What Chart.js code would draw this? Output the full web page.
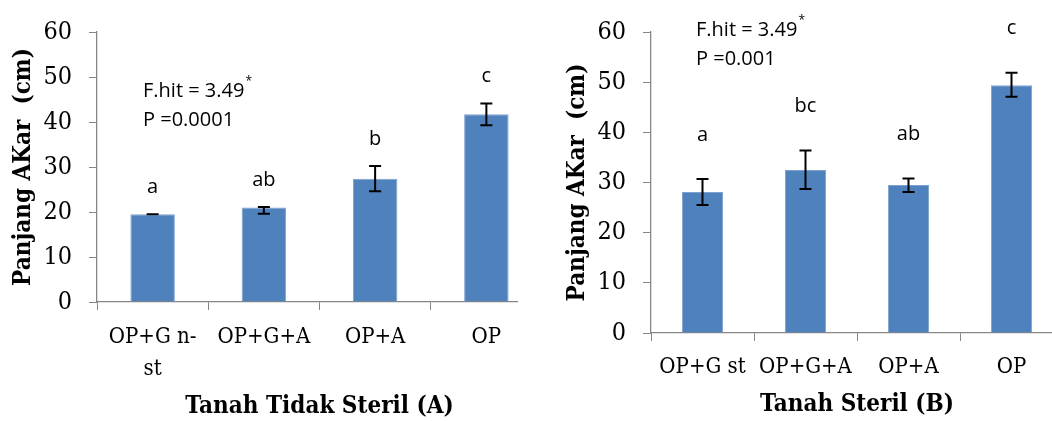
<!DOCTYPE html>
<html>
<head>
<meta charset="utf-8">
<script src="https://cdn.jsdelivr.net/npm/chart.js@4.4.0/dist/chart.umd.min.js"></script>
<style>
  html, body { margin: 0; padding: 0; background: #fff; }
  .wrap { position: absolute; top: 0; height: 421px; overflow: hidden; }
  #boxA { left: 0; width: 518px; }
  #boxB { left: 530px; width: 522px; }
  canvas { display: block; }
</style>
</head>
<body>
<div class="wrap" id="boxA"><canvas id="chartA" width="560" height="421"></canvas></div>
<div class="wrap" id="boxB"><canvas id="chartB" width="560" height="421"></canvas></div>
<script>
// data
const yTicks = [0, 10, 20, 30, 40, 50, 60];

const categoriesA = [["OP+G n-", "st"], "OP+G+A", "OP+A", "OP"];
const valuesA = [19.5, 21.0, 27.4, 41.7];
const errPlusA = [0, 0.1, 2.8, 2.4];
const errMinusA = [0, 1.4, 2.8, 2.4];
const lettersA = ["a", "ab", "b", "c"];
const statsA = ["F.hit = 3.49", "P =0.0001"];

const categoriesB = ["OP+G st", "OP+G+A", "OP+A", "OP"];
const valuesB = [28.1, 32.5, 29.5, 49.4];
const errPlusB = [2.6, 3.9, 1.3, 2.5];
const errMinusB = [2.6, 3.8, 1.4, 2.3];
const lettersB = ["a", "bc", "ab", "c"];
const statsB = ["F.hit = 3.49", "P =0.001"];

const axisGray = "#878787";
const barBlue = "#4F81BD";
const serif = "'DejaVu Serif Condensed', 'DejaVu Serif', serif";

// error bars, significance letters and the F/P note
const annotatePlugin = {
  id: "annotate",
  afterDatasetsDraw(chart, args, opts) {
    const ctx = chart.ctx;
    const meta = chart.getDatasetMeta(0);
    const y = chart.scales.y;
    ctx.save();
    ctx.strokeStyle = "#000";
    ctx.lineWidth = 2;
    meta.data.forEach((bar, i) => {
      const v = opts.values[i];
      const top = y.getPixelForValue(v + opts.errPlus[i]);
      const bot = y.getPixelForValue(v - opts.errMinus[i]);
      ctx.beginPath();
      ctx.moveTo(bar.x, top);
      ctx.lineTo(bar.x, bot);
      ctx.moveTo(bar.x - 6, top);
      ctx.lineTo(bar.x + 6, top);
      ctx.moveTo(bar.x - 6, bot);
      ctx.lineTo(bar.x + 6, bot);
      ctx.stroke();

      ctx.fillStyle = "#000";
      ctx.font = "20px 'Open Sans'";
      ctx.textAlign = "center";
      ctx.textBaseline = "middle";
      ctx.fillText(opts.letters[i], bar.x, top - opts.letterGap);
    });

    ctx.textAlign = "left";
    ctx.textBaseline = "middle";
    ctx.font = "20px 'Open Sans'";
    ctx.fillText(opts.stats[0], opts.statX, opts.statY);
    const w = ctx.measureText(opts.stats[0]).width;
    ctx.font = "12px 'Open Sans'";
    ctx.fillText("*", opts.statX + w + 1, opts.statY - 9);
    ctx.font = "20px 'Open Sans'";
    ctx.fillText(opts.stats[1], opts.statX, opts.statY + 29);
    ctx.restore();
  }
};

function makeChart(canvasId, cfg) {
  return new Chart(document.getElementById(canvasId), {
    type: "bar",
    data: {
      labels: cfg.labels,
      datasets: [{
        data: cfg.values,
        backgroundColor: barBlue,
        borderColor: "#7EA2CF",
        borderWidth: 1,
        barPercentage: 0.4,
        categoryPercentage: 1.0
      }]
    },
    options: {
      responsive: false,
      animation: false,
      layout: { padding: { top: cfg.top, right: cfg.right, bottom: 0, left: 0 } },
      plugins: {
        legend: { display: false },
        tooltip: { enabled: false },
        annotate: {
          values: cfg.values,
          errPlus: cfg.errPlus,
          errMinus: cfg.errMinus,
          letters: cfg.letters,
          letterGap: cfg.letterGap,
          stats: cfg.stats,
          statX: cfg.statX,
          statY: cfg.statY
        }
      },
      scales: {
        x: {
          offset: true,
          grid: { offset: true, drawOnChartArea: false, color: axisGray, tickLength: 8 },
          border: { color: axisGray, width: 1.3 },
          ticks: {
            color: "#000",
            maxRotation: 0,
            autoSkip: false,
            padding: cfg.xTickPad,
            font: { family: serif, size: 22, lineHeight: 1.45 }
          },
          title: {
            display: true,
            text: cfg.xTitle,
            color: "#000",
            padding: { top: 0, bottom: cfg.xTitlePad },
            font: { family: serif, size: 24, weight: "bold", lineHeight: 1.2 }
          },
          afterFit: (scale) => { scale.height = cfg.xHeight; }
        },
        y: {
          min: 0,
          max: 60,
          afterBuildTicks: (scale) => { scale.ticks = yTicks.map((v) => ({ value: v })); },
          grid: { drawOnChartArea: false, color: axisGray, tickLength: 8 },
          border: { color: axisGray, width: 1.3 },
          ticks: {
            color: "#000",
            padding: 17,
            font: { family: serif, size: 25 }
          },
          title: {
            display: true,
            text: "Panjang AKar  (cm)",
            color: "#000",
            padding: { top: cfg.yTitlePad, bottom: 0 },
            font: { family: serif, size: 24, weight: "bold", lineHeight: 1.2 }
          },
          afterFit: (scale) => { scale.width = cfg.yWidth; }
        }
      }
    },
    plugins: [annotatePlugin]
  });
}

makeChart("chartA", {
  labels: categoriesA, values: valuesA, errPlus: errPlusA, errMinus: errMinusA,
  letters: lettersA, stats: statsA, letterGap: 27, statX: 143, statY: 91,
  top: 25, right: 18, xHeight: 119, xTickPad: 11, xTitlePad: 0, yWidth: 97, yTitlePad: 9,
  xTitle: "Tanah Tidak Steril (A)"
});

makeChart("chartB", {
  labels: categoriesB, values: valuesB, errPlus: errPlusB, errMinus: errMinusB,
  letters: lettersB, stats: statsB, letterGap: 44, statX: 166, statY: 30,
  top: 32, right: 27, xHeight: 88, xTickPad: 10, xTitlePad: 2, yWidth: 121, yTitlePad: 33,
  xTitle: "Tanah Steril (B)"
});
</script>
</body>
</html>
